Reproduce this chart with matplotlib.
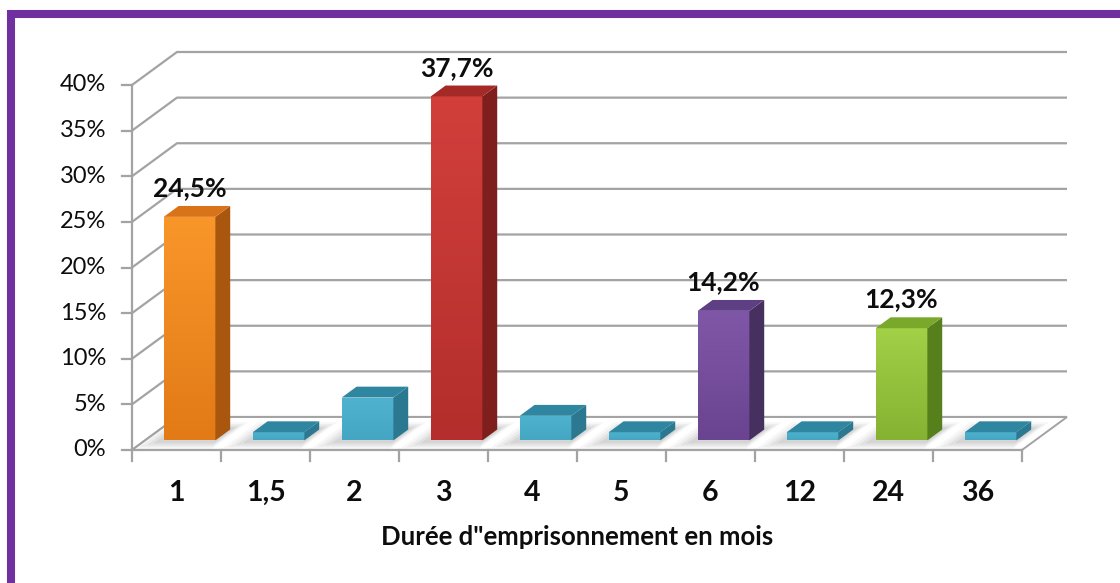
import matplotlib.pyplot as plt
import numpy as np
from matplotlib.patches import Polygon, Rectangle
from matplotlib.colors import LinearSegmentedColormap

# data
categories = ["1", "1,5", "2", "3", "4", "5", "6", "12", "24", "36"]
values = [24.5, 0.9, 4.7, 37.7, 2.7, 0.9, 14.2, 0.9, 12.3, 0.9]
show_label = [True, False, False, True, False, False, True, False, True, False]
y_ticks = [0, 5, 10, 15, 20, 25, 30, 35, 40]
x_title = 'Durée d"emprisonnement en mois'

# face colours per bar: (front top, front bottom, side, top)
orange = ("#f9962a", "#e27a16", "#a9570f", "#d9731a")
blue = ("#4fb3cf", "#44a6c2", "#2b7890", "#2f86a0")
red = ("#d23f3b", "#b32e2c", "#7e1f1d", "#a32a27")
purple = ("#8057a8", "#6a4490", "#463060", "#5f3f84")
green = ("#a2d047", "#86b232", "#56801c", "#7aa82b")
bar_colors = [orange, blue, blue, red, blue, blue, purple, blue, green, blue]

# fake 3d geometry (oblique projection in data units)
px_x = 89.0    # pixels per category
px_y = 9.125   # pixels per percent
DX = 45 / px_x
DY = 33 / px_y
d_front, d_back = 0.29, 0.62
bar_w = 0.58


def proj(u, v, d):
    return (u + DX * d, v + DY * d)


fig = plt.figure(figsize=(11.2, 5.83), dpi=100)
ax = fig.add_axes([0, 0, 1, 1])
ax.set_xlim(-132 / px_x, (1120 - 132) / px_x)
ax.set_ylim((450 - 583) / px_y, 450 / px_y)
ax.axis("off")

grid_c = "#a3a3a3"
txt_c = "#0d0d0d"
n = len(categories)

# back wall gridlines + left side diagonals
for t in y_ticks:
    x0, y0 = proj(0, t, 0)
    x1, y1 = proj(0, t, 1)
    x2, y2 = proj(n, t, 1)
    ax.plot([x0, x1, x2], [y0, y1, y2], color=grid_c, lw=1.6, zorder=1,
            solid_capstyle="butt")

# floor
floor = [proj(0, 0, 0), proj(n, 0, 0), proj(n, 0, 1), proj(0, 0, 1)]
ax.add_patch(Polygon(floor, closed=True, facecolor="white",
                     edgecolor=grid_c, lw=1.4, zorder=2))

# soft shadows around the bar bases
for i in range(n):
    c = i + 0.5
    for k, a in enumerate([0.06, 0.08, 0.10, 0.12]):
        grow = 0.22 - k * 0.05
        pts = [proj(c - bar_w / 2 - grow, 0, max(d_front - grow * 1.2, 0.02)),
               proj(c + bar_w / 2 + grow * 0.4, 0, max(d_front - grow * 1.2, 0.02)),
               proj(c + bar_w / 2 + grow * 0.4, 0, min(d_back + grow, 0.98)),
               proj(c - bar_w / 2 - grow, 0, min(d_back + grow, 0.98))]
        ax.add_patch(Polygon(pts, closed=True, facecolor="#7f7f7f",
                             edgecolor="none", alpha=a, zorder=3))

# bars
for i, (h, col) in enumerate(zip(values, bar_colors)):
    c = i + 0.5
    l, r = c - bar_w / 2, c + bar_w / 2
    fl = proj(l, 0, d_front)
    fr = proj(r, 0, d_front)
    # front face with a vertical gradient
    cmap = LinearSegmentedColormap.from_list("f", [col[1], col[0]])
    grad = np.linspace(0, 1, 64).reshape(-1, 1)
    front = Rectangle(fl, fr[0] - fl[0], h, facecolor="none", edgecolor="none")
    ax.add_patch(front)
    im = ax.imshow(grad, cmap=cmap, origin="lower", aspect="auto",
                   extent=[fl[0], fr[0], fl[1], fl[1] + h], zorder=5)
    im.set_clip_path(front)
    # right side
    side = [proj(r, 0, d_front), proj(r, 0, d_back),
            proj(r, h, d_back), proj(r, h, d_front)]
    ax.add_patch(Polygon(side, closed=True, facecolor=col[2],
                         edgecolor="none", zorder=5))
    # top
    top = [proj(l, h, d_front), proj(r, h, d_front),
           proj(r, h, d_back), proj(l, h, d_back)]
    ax.add_patch(Polygon(top, closed=True, facecolor=col[3],
                         edgecolor="none", zorder=6))
    if show_label[i]:
        lx, ly = proj(c, h, d_front)
        txt = f"{h:.1f}".replace(".", ",") + "%"
        ax.text(lx, ly + 3.15, txt, ha="center", va="center", fontsize=19,
                fontweight="bold", family="Lato", color=txt_c, zorder=8)

# left value axis with ticks
ax.plot([0, 0], [0, y_ticks[-1]], color=grid_c, lw=1.6, zorder=4)
for t in y_ticks:
    ax.plot([-10 / px_x, 0], [t, t], color=grid_c, lw=1.6, zorder=4)
    ax.text(-26 / px_x, t, f"{t}%", ha="right", va="center", fontsize=17,
            family="Lato", color=txt_c)

# category axis with ticks
ax.plot([0, n], [0, 0], color=grid_c, lw=1.6, zorder=4)
for i in range(n + 1):
    ax.plot([i, i], [0, -11 / px_y], color=grid_c, lw=1.6, zorder=4)
for i, lab in enumerate(categories):
    ax.text(i + 0.5, -43 / px_y, lab, ha="center", va="center", fontsize=20.5,
            fontweight="bold", family="Lato", color=txt_c)

ax.text(5.0, -87 / px_y, x_title, ha="center", va="center", fontsize=18.5,
        fontweight="bold", family="Lato", color=txt_c)

# purple frame (right and bottom edges fall outside the picture)
fig.patches.append(Rectangle((11 / 1120, -0.2), 1.5, 1.2 - 14 / 583,
                             transform=fig.transFigure, fill=False,
                             edgecolor="#7030a0", lw=5.8))

fig.savefig("out.png", dpi=100)
